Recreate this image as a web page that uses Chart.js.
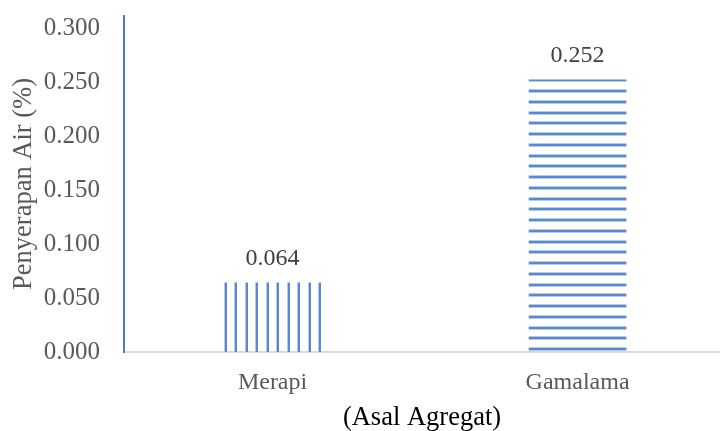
<!DOCTYPE html>
<html>
<head>
<meta charset="utf-8">
<script src="https://cdn.jsdelivr.net/npm/chart.js@4"></script>
<style>
  html, body { margin: 0; padding: 0; background: #fff; }
  #wrap { width: 720px; height: 431px; }
</style>
</head>
<body>
<div id="wrap"><canvas id="chart"></canvas></div>
<script>
// data
const categories = ['Merapi', 'Gamalama'];
const absorption = [0.064, 0.252];
const yTickValues = [0, 0.05, 0.1, 0.15, 0.2, 0.25, 0.3];

const FONT = 'Liberation Serif, Times New Roman, serif';
const LIGHT = '#b3cbea';
const DARK = '#5a8acd';

// striped fills
function verticalStripes() {
    const c = document.createElement('canvas');
    c.width = 21; c.height = 1;
    const g = c.getContext('2d');
    [3, 14].forEach(x => {
        g.fillStyle = LIGHT; g.fillRect(x, 0, 1, 1);
        g.fillStyle = DARK; g.fillRect(x + 1, 0, 2, 1);
    });
    return g.createPattern(c, 'repeat');
}

function horizontalStripes() {
    const c = document.createElement('canvas');
    c.width = 1; c.height = 43;
    const g = c.getContext('2d');
    [4, 15, 26, 36].forEach(y => {
        g.fillStyle = LIGHT; g.fillRect(0, y - 1, 1, 1);
        g.fillStyle = DARK; g.fillRect(0, y, 1, 2);
        g.fillStyle = LIGHT; g.fillRect(0, y + 2, 1, 1);
    });
    return g.createPattern(c, 'repeat');
}

// value labels above bars
const valueLabels = {
    id: 'valueLabels',
    afterDatasetsDraw(chart) {
        const ctx = chart.ctx;
        const meta = chart.getDatasetMeta(0);
        ctx.save();
        ctx.font = '24px ' + FONT;
        ctx.fillStyle = '#404040';
        ctx.textAlign = 'center';
        ctx.textBaseline = 'middle';
        meta.data.forEach((bar, i) => {
            ctx.fillText(absorption[i].toFixed(3), bar.x, bar.y - 24);
        });
        ctx.restore();
    }
};

new Chart(document.getElementById('chart'), {
    type: 'bar',
    data: {
        datasets: [{
            data: categories.map((c, i) => ({ x: i + 0.5, y: absorption[i] })),
            backgroundColor: [verticalStripes(), horizontalStripes()],
            borderWidth: 0,
            barThickness: 97
        }]
    },
    options: {
        responsive: true,
        maintainAspectRatio: false,
        animation: false,
        layout: { padding: { top: 16, right: 0, left: 0, bottom: 0 } },
        plugins: {
            legend: { display: false },
            tooltip: { enabled: false }
        },
        scales: {
            x: {
                type: 'linear',
                offset: false,
                min: 0.013,
                max: 1.967,
                afterBuildTicks: scale => {
                    scale.ticks = categories.map((c, i) => ({ value: i + 0.5 }));
                },
                afterFit: scale => {
                    scale.height = 79;
                    scale.paddingLeft = 0;
                    scale.paddingRight = 0;
                },
                ticks: {
                    autoSkip: false,
                    maxRotation: 0,
                    padding: 16,
                    color: '#595959',
                    font: { family: FONT, size: 24 },
                    callback: (v, i) => categories[i]
                },
                grid: { display: false, drawTicks: false },
                border: { display: true, color: '#d9d9d9', width: 2 },
                title: {
                    display: true,
                    text: '(Asal Agregat)',
                    color: '#000000',
                    font: { family: FONT, size: 26.5 },
                    padding: { top: 0, bottom: -3 }
                }
            },
            y: {
                min: 0,
                max: 0.3111,
                afterBuildTicks: scale => {
                    scale.ticks = yTickValues.map(v => ({ value: v }));
                },
                afterFit: scale => {
                    scale.width = 124;
                    scale.paddingTop = 0;
                    scale.paddingBottom = 0;
                },
                ticks: {
                    padding: 24,
                    color: '#595959',
                    font: { family: FONT, size: 25 },
                    callback: v => v.toFixed(3)
                },
                grid: { display: false, drawTicks: false },
                border: { display: true, color: '#4a7ebf', width: 2 },
                title: {
                    display: true,
                    text: 'Penyerapan Air (%)',
                    color: '#595959',
                    font: { family: FONT, size: 26.5 },
                    padding: { top: 8, bottom: 0 }
                }
            }
        }
    },
    plugins: [valueLabels]
});
</script>
</body>
</html>
